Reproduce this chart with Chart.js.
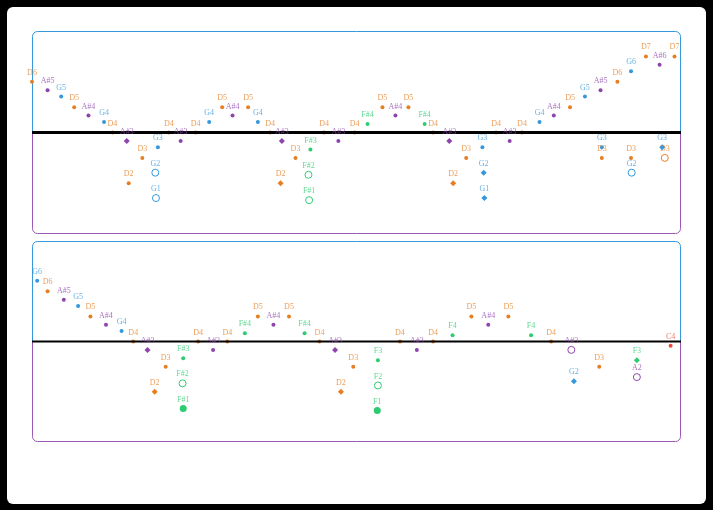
<!DOCTYPE html>
<html>
<head>
<meta charset="utf-8">
<script src="https://cdn.jsdelivr.net/npm/chart.js@4.4.1/dist/chart.umd.min.js"></script>
<style>
  html, body { margin: 0; padding: 0; background: #000; overflow: hidden; }
  #card { position: absolute; left: 7px; top: 7px; width: 699px; height: 497px; background: #fff; border-radius: 6px; }
  canvas { position: absolute; left: 0; top: 0; }
</style>
</head>
<body>
<div id="card"></div>
<canvas id="topChart" width="713" height="510"></canvas>
<canvas id="bottomChart" width="713" height="510"></canvas>
<script>
// ---- top panel: times (0-100) and note names ----
var topDotTimes = [0.0, 2.4, 4.5, 6.5, 8.7, 11.1, 12.4, 14.9, 17.0, 19.4, 21.1, 22.9, 25.2, 27.3, 29.3, 30.9,
    33.3, 34.8, 36.7, 40.6, 42.9, 45.0, 47.2, 49.7, 51.7, 54.0, 56.0, 58.0, 60.5, 61.8, 66.9, 69.4,
    71.5, 73.6, 75.5, 78.2, 80.4, 82.9, 85.2, 87.6, 87.8, 87.8, 90.2, 92.3, 92.3, 94.6, 96.7, 99.0];
var topDotNotes = ['D6', 'A#5', 'G5', 'D5', 'A#4', 'G4', 'D4', 'D2', 'D3', 'G3', 'D4', 'A#3', 'D4', 'G4', 'D5', 'A#4',
    'D5', 'G4', 'D4', 'D3', 'F#3', 'D4', 'A#3', 'D4', 'F#4', 'D5', 'A#4', 'D5', 'F#4', 'D4', 'D3', 'G3',
    'D4', 'A#3', 'D4', 'G4', 'A#4', 'D5', 'G5', 'A#5', 'G3', 'D3', 'D6', 'G6', 'D3', 'D7', 'A#6', 'D7'];
var topDiamondTimes = [14.6, 38.5, 38.3, 64.3, 64.9, 69.6, 69.7, 97.1];
var topDiamondNotes = ['A#3', 'A#3', 'D2', 'A#3', 'D2', 'G2', 'G1', 'G3'];
var topRingTimes = [19.0, 19.1, 42.6, 42.7, 92.4, 97.5];
var topRingNotes = ['G2', 'G1', 'F#2', 'F#1', 'G2', 'D3'];

// ---- bottom panel ----
var bottomDotTimes = [0.8, 2.4, 4.9, 7.1, 9.0, 11.4, 13.8, 15.6, 20.6, 23.3, 25.6, 27.9, 30.1, 32.8, 34.8, 37.2,
    39.6, 42.0, 44.3, 49.5, 53.3, 56.7, 59.3, 61.8, 64.8, 67.7, 70.3, 73.4, 76.9, 80.0, 87.4, 98.4];
var bottomDotNotes = ['G6', 'D6', 'A#5', 'G5', 'D5', 'A#4', 'G4', 'D4', 'D3', 'F#3', 'D4', 'A#3', 'D4', 'F#4', 'D5', 'A#4',
    'D5', 'F#4', 'D4', 'D3', 'F3', 'D4', 'A#3', 'D4', 'F4', 'D5', 'A#4', 'D5', 'F4', 'D4', 'D3', 'C4'];
var bottomDiamondTimes = [17.8, 18.9, 46.7, 47.6, 83.5, 93.2];
var bottomDiamondNotes = ['A#3', 'D2', 'A#3', 'D2', 'G2', 'F3'];
var bottomRingTimes = [23.2, 53.3, 83.1, 93.2];
var bottomRingNotes = ['F#2', 'F2', 'A#3', 'A2'];
var bottomBigTimes = [23.3, 53.2];
var bottomBigNotes = ['F#1', 'F1'];

// pitch axis, in midi numbers, centred on D4
var pitchMin = 14;
var pitchMax = 110;
var centerPitch = 62;

var letterSteps = { C: 0, D: 2, E: 4, F: 5, G: 7, A: 9, B: 11 };
var classColors = { C: '#e74c3c', D: '#e67e22', F: '#2ecc71', G: '#3498db', A: '#8e44ad' };

// note name -> midi number
function noteToMidi(name) {
    var step = letterSteps[name.charAt(0)];
    var sharp = name.charAt(1) === '#' ? 1 : 0;
    var octave = parseInt(name.slice(1 + sharp), 10);
    return (octave + 1) * 12 + step + sharp;
}

function noteColor(name) {
    return classColors[name.charAt(0)];
}

function makeDataset(times, notes, kind) {
    var points = [];
    var colors = [];
    for (var i = 0; i < times.length; i++) {
        points.push({ x: times[i], y: noteToMidi(notes[i]), note: notes[i] });
        colors.push(noteColor(notes[i]));
    }
    var ds = {
        data: points,
        clip: false,
        pointStyle: kind === 'diamond' ? 'rectRot' : 'circle',
        pointBackgroundColor: colors,
        pointBorderColor: colors,
        pointBorderWidth: 0,
        pointRadius: 2,
        pointHoverRadius: 2
    };
    if (kind === 'diamond') {
        ds.pointRadius = 3;
        ds.pointHoverRadius = 3;
    }
    if (kind === 'ring') {
        ds.pointBackgroundColor = 'rgba(255,255,255,0)';
        ds.pointBorderWidth = 1;
        ds.pointRadius = 3.5;
        ds.pointHoverRadius = 3.5;
    }
    if (kind === 'big') {
        ds.pointRadius = 3.5;
        ds.pointHoverRadius = 3.5;
    }
    return ds;
}

// panel frame (blue top half, purple bottom half), centre line and note labels
var panelPlugin = {
    id: 'panel',
    beforeDatasetsDraw: function (chart) {
        var a = chart.chartArea;
        var ctx = chart.ctx;
        var midY = chart.scales.y.getPixelForValue(centerPitch);
        var halves = [[a.top - 2, midY, '#3498db'], [midY, a.bottom + 2, '#9b59b6']];
        halves.forEach(function (h) {
            ctx.save();
            ctx.beginPath();
            ctx.rect(a.left - 2, h[0], a.right - a.left + 4, h[1] - h[0]);
            ctx.clip();
            ctx.beginPath();
            ctx.roundRect(a.left + 0.5, a.top + 0.5, a.right - a.left - 1, a.bottom - a.top - 1, 5);
            ctx.strokeStyle = h[2];
            ctx.lineWidth = 1;
            ctx.stroke();
            ctx.restore();
        });
    },
    afterDatasetsDraw: function (chart, args, opts) {
        var a = chart.chartArea;
        var ctx = chart.ctx;
        var midY = chart.scales.y.getPixelForValue(centerPitch);
        ctx.save();
        ctx.beginPath();
        ctx.moveTo(a.left, midY);
        ctx.lineTo(a.right, midY);
        ctx.strokeStyle = '#000';
        ctx.lineWidth = opts.lineWidth;
        ctx.stroke();

        ctx.font = '8px "Liberation Serif", serif';
        ctx.textAlign = 'center';
        ctx.textBaseline = 'middle';
        ctx.globalAlpha = 0.75;
        chart.data.datasets.forEach(function (ds, i) {
            var meta = chart.getDatasetMeta(i);
            meta.data.forEach(function (el, j) {
                var note = ds.data[j].note;
                ctx.fillStyle = noteColor(note);
                ctx.fillText(note, el.x, el.y - 9);
            });
        });
        ctx.restore();
    }
};

function renderPanel(canvasId, datasets, padding, lineWidth) {
    var ctx = document.getElementById(canvasId).getContext('2d');
    new Chart(ctx, {
        type: 'scatter',
        data: { datasets: datasets },
        options: {
            responsive: false,
            animation: false,
            devicePixelRatio: 1,
            layout: { padding: padding },
            scales: {
                x: { type: 'linear', min: 0, max: 100, display: false },
                y: { type: 'linear', min: pitchMin, max: pitchMax, display: false }
            },
            plugins: {
                legend: { display: false },
                tooltip: { enabled: false },
                panel: { lineWidth: lineWidth }
            }
        },
        plugins: [panelPlugin]
    });
}

renderPanel('topChart', [
    makeDataset(topDotTimes, topDotNotes, 'dot'),
    makeDataset(topDiamondTimes, topDiamondNotes, 'diamond'),
    makeDataset(topRingTimes, topRingNotes, 'ring')
], { left: 32, right: 32, top: 31, bottom: 276 }, 3);

renderPanel('bottomChart', [
    makeDataset(bottomDotTimes, bottomDotNotes, 'dot'),
    makeDataset(bottomDiamondTimes, bottomDiamondNotes, 'diamond'),
    makeDataset(bottomRingTimes, bottomRingNotes, 'ring'),
    makeDataset(bottomBigTimes, bottomBigNotes, 'big')
], { left: 32, right: 32, top: 241, bottom: 68 }, 2);
</script>
</body>
</html>
